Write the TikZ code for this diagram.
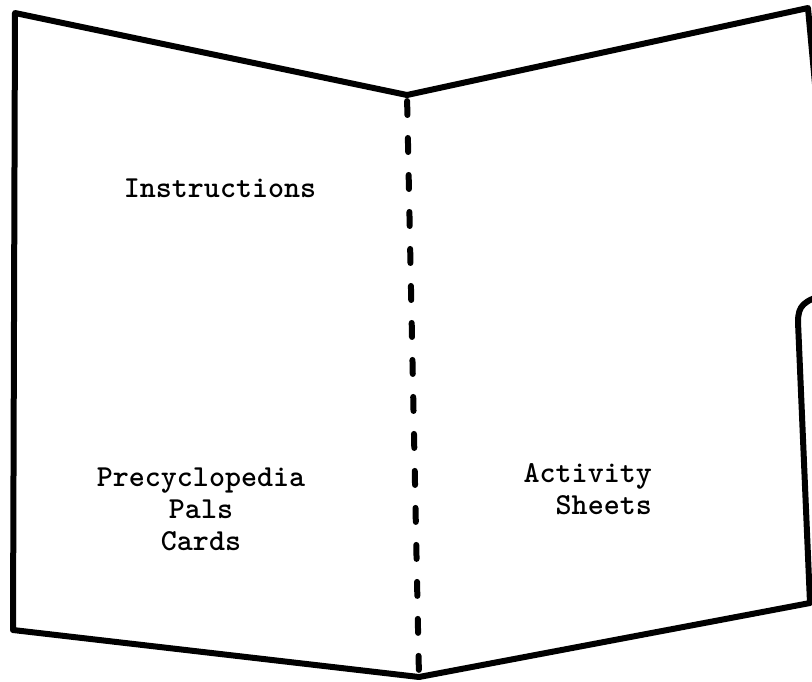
\documentclass[tikz,border=0pt]{standalone}
\usepackage{fontspec}
\usetikzlibrary{calc}

\begin{document}
\begin{tikzpicture}[x=1pt,y=-1pt,
  edge/.style={line width=6pt,line join=round,line cap=round},
  fold/.style={line width=6pt,line cap=round,dash pattern=on 14pt off 23pt},
  typed/.style={font=\ttfamily\bfseries\fontsize{30.5}{32}\selectfont,inner sep=0pt}]
  \useasboundingbox (0,0) rectangle (812,681);
  \clip (0,0) rectangle (812,681);
  % corners of the folder
  \coordinate (tl) at (15,13);
  \coordinate (bl) at (13,630);
  \coordinate (foldtop) at (407,95);
  \coordinate (foldbot) at (419,677);
  \coordinate (tr) at (808,8);
  \coordinate (br) at (810,603);
  % left panel
  \draw[edge] (foldtop) -- (tl) -- (bl) -- (foldbot);
  % right panel, its tab runs off the page
  \draw[edge] (foldtop) -- (tr) -- (822,160) -- (826,294)
    .. controls (804,301) and (798,305) .. (798,322) -- (br) -- (foldbot);
  % fold
  \draw[fold,shorten <=6pt,shorten >=3pt] (foldtop) -- (foldbot);
  % texts
  \node[typed,anchor=base] (instr) at (220,197) {Instructions};
  \node[typed,align=center,anchor=north] (cards) at (201,468) {Precyclopedia\\Pals\\Cards};
  \node[typed,align=right,anchor=north east] (sheets) at (652,463) {Activity\\Sheets};
\end{tikzpicture}
\end{document}
